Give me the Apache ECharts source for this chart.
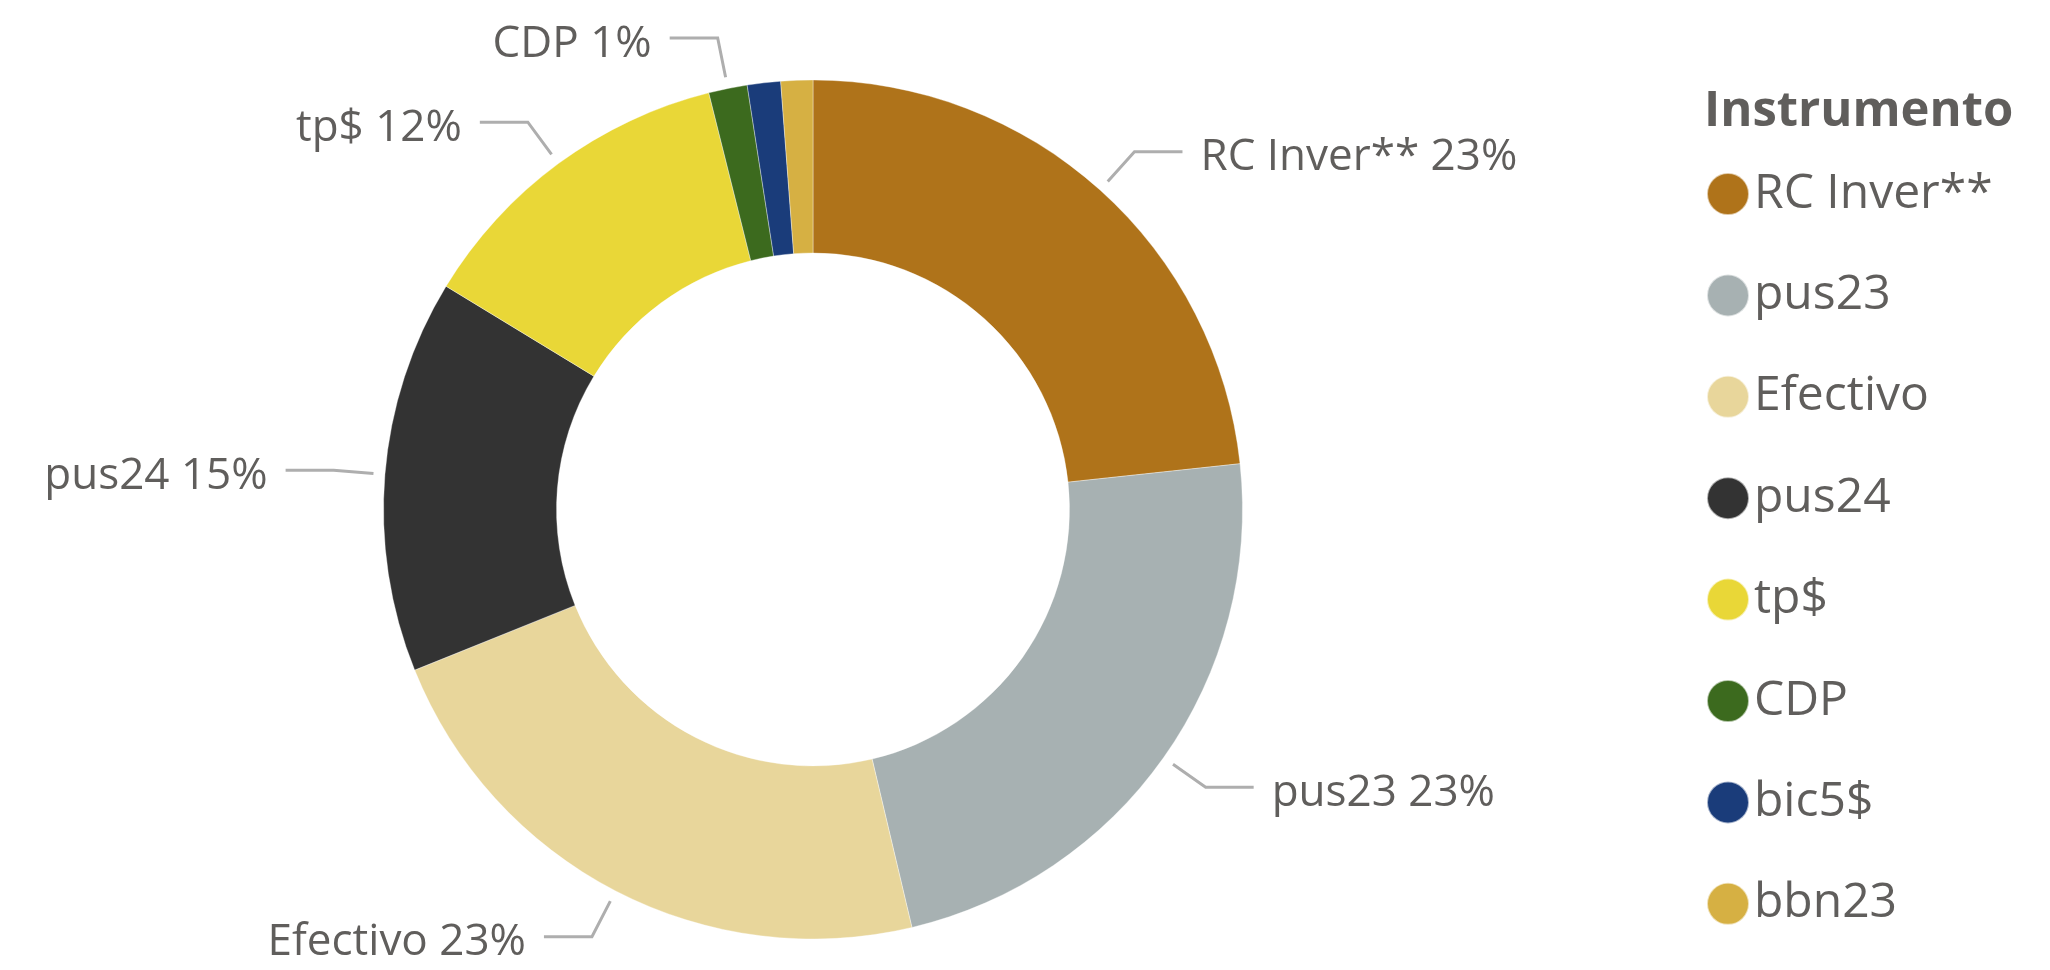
<!DOCTYPE html>
<html>
<head>
<meta charset="utf-8">
<style>
html,body{margin:0;padding:0;background:#fff;}
#chart{width:2050px;height:970px;}
</style>
<script src="https://cdn.jsdelivr.net/npm/echarts@6/dist/echarts.min.js"></script>
</head>
<body>
<div id="chart"></div>
<script>
const categories = ['RC Inver**', 'pus23', 'Efectivo', 'pus24', 'tp$', 'CDP', 'bic5$', 'bbn23'];
const values = [23.3, 23.0, 22.6, 14.8, 12.4, 1.45, 1.25, 1.2];
const colors = ['#AF731A', '#A7B1B2', '#E8D69B', '#333333', '#E9D737', '#3C6A1E', '#1A3C7A', '#D6B043'];
const legendTitle = 'Instrumento';

const FONT = '"Segoe UI", "Open Sans", "Noto Sans", sans-serif';
const TEXT = '#605E5C';
const data = categories.map((c, i) => ({ name: c, value: values[i] }));

const chart = echarts.init(document.getElementById('chart'), null, { renderer: 'canvas' });
chart.setOption({
  animation: false,
  color: colors,
  title: {
    text: legendTitle,
    left: 1704,
    top: 88,
    padding: 0,
    textStyle: { fontFamily: FONT, fontSize: 49, fontWeight: 'bold', color: TEXT }
  },
  legend: {
    orient: 'vertical',
    left: 1706,
    top: 170,
    padding: 0,
    icon: 'circle',
    itemWidth: 42,
    itemHeight: 42,
    itemGap: 53.4,
    data: categories,
    textStyle: { fontFamily: FONT, fontSize: 48, lineHeight: 48, color: TEXT }
  },
  series: [
    {
      type: 'pie',
      name: 'Instrumento',
      center: [813, 509.5],
      radius: [256.5, 429.5],
      startAngle: 90,
      clockwise: true,
      silent: true,
      label: { show: false },
      labelLine: { show: false },
      itemStyle: { borderColor: 'rgba(255,255,255,0.6)', borderWidth: 0.6 },
      data: data
    },
    {
      type: 'pie',
      name: 'labels',
      center: [813, 509.5],
      radius: [430, 441],
      startAngle: 90,
      clockwise: true,
      silent: true,
      minShowLabelAngle: 5,
      avoidLabelOverlap: false,
      itemStyle: { color: 'rgba(0,0,0,0)' },
      label: {
        show: true,
        position: 'outside',
        distanceToLabelLine: 18,
        formatter: p => '{t|' + p.name + ' ' + Math.round(p.percent) + '%}',
        rich: {
          t: {
            fontFamily: FONT,
            fontSize: 44,
            lineHeight: 44,
            color: TEXT,
            padding: [12, 0, 0, 0]
          }
        }
      },
      labelLine: {
        show: true,
        length: 40,
        length2: 48,
        lineStyle: { color: '#AEAEAE', width: 3 }
      },
      data: data
    }
  ]
});
</script>
</body>
</html>
